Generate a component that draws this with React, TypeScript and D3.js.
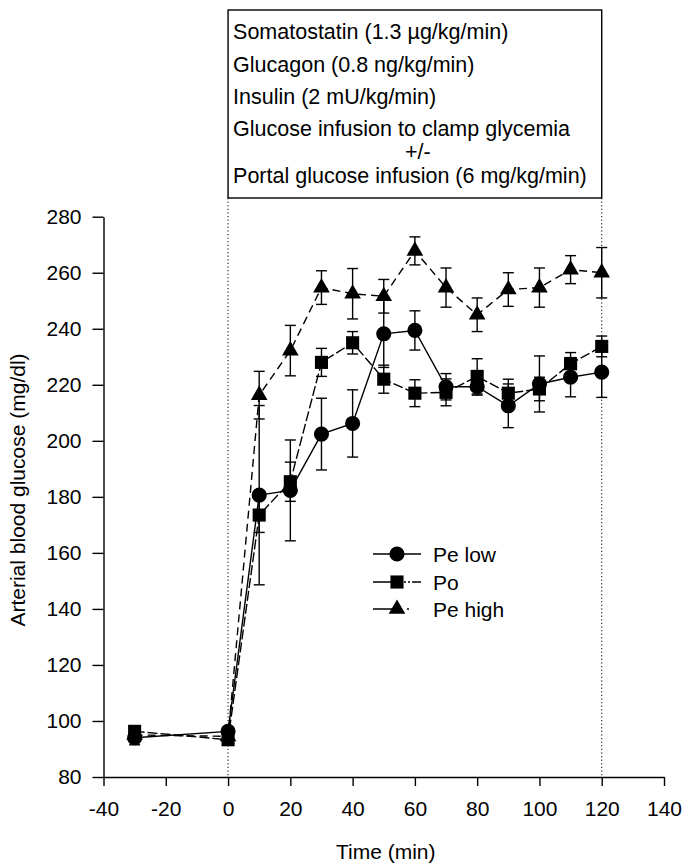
import * as d3 from 'd3'
import { useEffect, useRef } from 'react'

// sampling times (min)
const times = [-30, 0, 10, 20, 30, 40, 50, 60, 70, 80, 90, 100, 110, 120]

// arterial blood glucose (mg/dl), mean and SE
const peLow = [94, 96.3, 180.6, 182.3, 202.4, 206.2, 238.2, 239.4, 219.3, 219.3, 212.5, 220.3, 222.7, 224.5]
const peLowSe = [2.5, 1.5, 32, 18, 12.8, 12, 12, 7, 4.7, 3, 7.8, 10, 7, 9]
const po = [96.3, 93.3, 173.5, 185.4, 228, 235, 222, 217, 217.3, 223, 217, 218.5, 227.5, 233.7]
const poSe = [1.5, 1.5, 6.2, 7, 5, 4, 5, 4.8, 4.8, 6.3, 5, 4.2, 4, 3.7]
const peHigh = [95, 94.5, 216.3, 232.2, 254.7, 252.5, 251.6, 267.8, 254.7, 245, 254, 254.7, 261.1, 260]
const peHighSe = [1.5, 1.5, 8.5, 9, 6, 9, 6, 5, 7, 6, 6, 7, 5, 9]

const xTicks = [-40, -20, 0, 20, 40, 60, 80, 100, 120, 140]
const yTicks = [80, 100, 120, 140, 160, 180, 200, 220, 240, 260, 280]

const boxLines = [
  'Somatostatin (1.3 µg/kg/min)',
  'Glucagon (0.8 ng/kg/min)',
  'Insulin (2 mU/kg/min)',
  'Glucose infusion to clamp glycemia',
  '+/-',
  'Portal glucose infusion (6 mg/kg/min)',
]

const seriesNames = ['Pe low', 'Po', 'Pe high']

const width = 683
const height = 863
const font = '"Liberation Sans", Arial, Helvetica, sans-serif'

const App = () => {
  const svgRef = useRef<SVGSVGElement>(null)

  useEffect(() => {
    const svg = d3.select(svgRef.current)
    svg.selectAll('*').remove()

    const x = d3.scaleLinear().domain([-40, 140]).range([103.5, 664])
    const y = d3.scaleLinear().domain([80, 280]).range([777, 216.7])

    // infusion period markers
    const infusion = [0, 120]
    svg
      .append('g')
      .selectAll('line')
      .data(infusion)
      .enter()
      .append('line')
      .attr('x1', (d) => x(d))
      .attr('x2', (d) => x(d))
      .attr('y1', 198)
      .attr('y2', y(80))
      .attr('stroke', '#000')
      .attr('stroke-width', 1)
      .attr('stroke-dasharray', '1.2,2.4')

    // protocol box
    svg
      .append('rect')
      .attr('x', x(0))
      .attr('y', 10)
      .attr('width', x(120) - x(0))
      .attr('height', 188)
      .attr('fill', 'none')
      .attr('stroke', '#000')
      .attr('stroke-width', 1.4)

    const baselines = [39, 72, 104, 136, 159, 183]
    svg
      .append('g')
      .selectAll('text')
      .data(boxLines)
      .enter()
      .append('text')
      .attr('x', (d) => (d === '+/-' ? (x(0) + x(120)) / 2 + 3 : x(0) + 5))
      .attr('y', (_, i) => baselines[i])
      .attr('text-anchor', (d) => (d === '+/-' ? 'middle' : 'start'))
      .style('font-family', font)
      .style('font-size', '21.5px')
      .text((d) => d)

    // axes (plain hyphen for negatives, like the original)
    const xAxis = d3
      .axisBottom(x)
      .tickValues(xTicks)
      .tickFormat((d) => String(d))
      .tickSize(9)
      .tickSizeOuter(0)
      .tickPadding(15)
    const gx = svg.append('g').attr('transform', `translate(0, ${y(80)})`).call(xAxis)
    const yAxis = d3
      .axisLeft(y)
      .tickValues(yTicks)
      .tickFormat((d) => String(d))
      .tickSize(11)
      .tickSizeOuter(0)
      .tickPadding(11)
    const gy = svg.append('g').attr('transform', `translate(${x(-40)}, 0)`).call(yAxis)
    ;[gx, gy].forEach((g) => {
      g.selectAll('text').style('font-family', font).style('font-size', '21px').attr('fill', '#000')
      g.selectAll('line, path').attr('stroke', '#000').attr('stroke-width', 1.4)
    })

    svg
      .append('text')
      .attr('x', (x(-40) + x(140)) / 2 + 2)
      .attr('y', 859)
      .attr('text-anchor', 'middle')
      .style('font-family', font)
      .style('font-size', '21px')
      .text('Time (min)')

    svg
      .append('text')
      .attr('transform', `translate(25, 490) rotate(-90)`)
      .attr('text-anchor', 'middle')
      .style('font-family', font)
      .style('font-size', '21px')
      .text('Arterial blood glucose (mg/dl)')

    const series = [
      { values: peLow, se: peLowSe, symbol: d3.symbolCircle, size: 180, dash: null },
      { values: po, se: poSe, symbol: d3.symbolSquare, size: 172, dash: '10,3' },
      { values: peHigh, se: peHighSe, symbol: d3.symbolTriangle, size: 120, dash: '8,5' },
    ]

    // error bars
    series.forEach((s) => {
      const g = svg.append('g').attr('stroke', '#000').attr('stroke-width', 1.4)
      times.forEach((t, i) => {
        const top = y(s.values[i] + s.se[i])
        const bottom = y(s.values[i] - s.se[i])
        g.append('line').attr('x1', x(t)).attr('x2', x(t)).attr('y1', top).attr('y2', bottom)
        g.append('line').attr('x1', x(t) - 5.5).attr('x2', x(t) + 5.5).attr('y1', top).attr('y2', top)
        g.append('line').attr('x1', x(t) - 5.5).attr('x2', x(t) + 5.5).attr('y1', bottom).attr('y2', bottom)
      })
    })

    // lines
    const line = d3
      .line<number>()
      .x((_, i) => x(times[i]))
      .y((d) => y(d))
    series.forEach((s) => {
      svg
        .append('path')
        .attr('d', line(s.values))
        .attr('fill', 'none')
        .attr('stroke', '#000')
        .attr('stroke-width', 1.4)
        .attr('stroke-dasharray', s.dash)
    })

    // markers
    series.forEach((s) => {
      const sym = d3.symbol(s.symbol, s.size)
      svg
        .append('g')
        .selectAll('path')
        .data(s.values)
        .enter()
        .append('path')
        .attr('d', sym)
        .attr('transform', (d, i) => `translate(${x(times[i])}, ${y(d)})`)
        .attr('fill', '#000')
    })

    // legend
    const legendX = 373
    const legendY = [554, 582, 609]
    const legendDash = [null, '24,3,2,2,2,2,2,2', '28,6,2,20']
    series.forEach((s, i) => {
      const g = svg.append('g').attr('transform', `translate(${legendX}, ${legendY[i]})`)
      g.append('line')
        .attr('x1', 0)
        .attr('x2', 48)
        .attr('stroke', '#000')
        .attr('stroke-width', 1.4)
        .attr('stroke-dasharray', legendDash[i])
      g.append('path').attr('d', d3.symbol(s.symbol, s.size)).attr('transform', 'translate(24, 0)').attr('fill', '#000')
      g.append('text')
        .attr('x', 60)
        .attr('y', 7.5)
        .style('font-family', font)
        .style('font-size', '21px')
        .text(seriesNames[i])
    })
  }, [])

  return (
    <svg
      ref={svgRef}
      width={width}
      height={height}
      style={{ position: 'absolute', left: 0, top: 0, background: '#fff' }}
    />
  )
}

export default App
